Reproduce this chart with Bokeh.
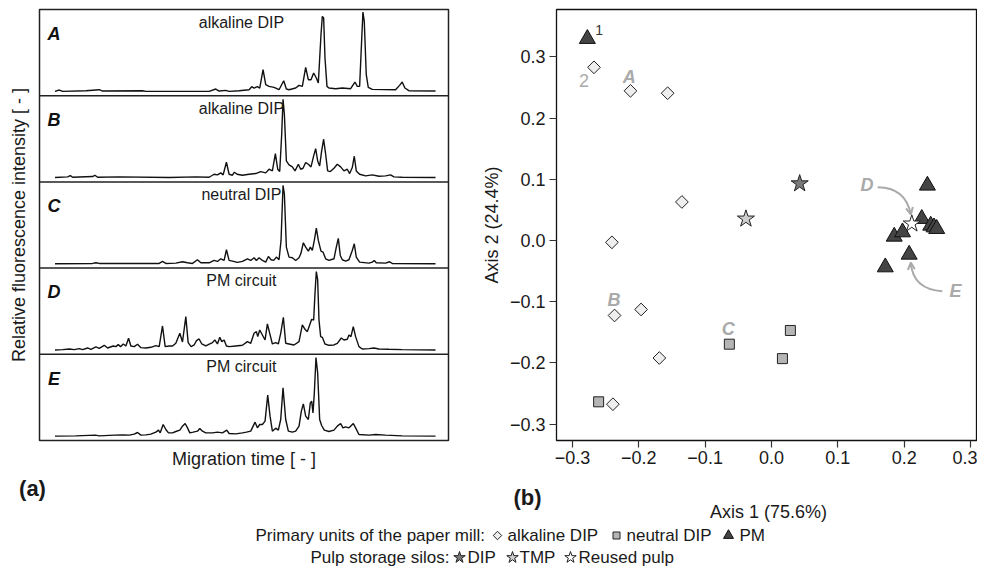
from bokeh.plotting import figure
from bokeh.layouts import column, row
from bokeh.models import (Range1d, FixedTicker, CustomJSTickFormatter, Span,
                          Arrow, OpenHead, ColumnDataSource)
from bokeh.embed import file_html
from bokeh.resources import INLINE
from bokeh.core.properties import value

FONT = "Liberation Sans"

# ---------------- data: electropherograms (migration time, intensity; arbitrary units) ----
A_t = [57,70,80,150,190,200,320,330,520,540,550,570,580,610,640,648,655,665,672,682,690,700,715,730,744,752,760,780,790,800,810,818,826,834,842,848,856,860,864,868,874,880,900,920,945,958,965,972,978,982,986,992,998,1010,1080,1092,1100,1108,1120,1200]
A_i = [0,4,0,2,5,1,2,0,0,7,1,3,0,2,5,14,10,14,10,65,20,15,12,5,32,7,5,10,18,15,72,35,35,55,40,25,170,225,220,100,15,10,8,10,8,28,15,15,150,238,210,50,12,6,5,18,28,10,2,1]

B_t = [57,95,103,110,170,177,185,250,400,480,520,535,545,555,562,572,580,590,596,604,620,640,660,675,690,700,710,719,726,732,738,742,746,752,760,770,778,788,795,802,810,818,826,834,840,846,852,858,864,870,876,884,895,905,915,925,935,942,950,956,962,972,990,1010,1030,1050,1065,1075,1100,1200]
B_i = [0,2,6,1,3,7,1,2,0,2,1,10,8,14,8,46,10,7,16,10,7,10,12,18,14,25,20,72,25,18,130,235,190,50,38,32,20,40,25,28,45,40,32,65,87,50,35,80,115,70,20,18,28,40,32,20,25,12,30,64,20,10,5,8,4,5,8,2,1,0]

C_t = [57,170,180,190,290,370,380,390,420,440,455,470,485,495,520,535,545,555,565,572,580,590,605,620,635,645,655,662,670,680,690,698,706,714,722,730,736,742,746,752,760,770,780,790,796,803,810,818,824,830,836,842,848,856,862,870,880,895,902,908,914,920,930,940,950,956,962,972,1000,1010,1016,1022,1050,1062,1070,1200]
C_i = [0,1,3,1,1,1,7,1,2,6,3,1,12,3,3,10,7,15,10,42,10,8,4,7,15,10,18,10,18,10,5,22,12,10,20,12,70,235,210,50,20,18,10,18,32,63,50,38,50,40,70,107,70,38,35,15,10,15,50,76,25,12,8,12,40,60,20,5,2,5,10,3,2,6,1,0]

D_t = [57,80,100,115,130,140,155,165,180,190,205,215,232,240,247,254,262,270,278,285,295,305,315,330,345,360,370,380,388,400,410,420,432,440,450,457,466,475,482,490,498,510,522,530,537,545,552,558,565,572,580,600,620,635,645,655,662,666,672,680,688,695,702,710,720,728,735,743,750,760,775,790,800,808,815,822,828,834,838,842,846,850,855,860,868,880,895,905,917,925,935,940,946,953,960,970,980,1000,1015,1030,1060,1100,1200]
D_i = [0,1,3,1,4,1,6,2,9,5,14,6,12,10,16,10,18,12,35,12,10,17,7,6,8,13,10,72,10,12,12,20,50,24,100,22,10,15,28,33,18,12,18,22,30,18,38,25,30,12,10,12,14,25,20,50,55,40,60,45,30,78,50,18,22,18,50,98,20,18,15,25,75,62,55,75,92,90,170,235,210,90,40,38,18,14,15,20,36,30,32,45,40,70,40,10,3,4,6,3,2,1,0]

E_t = [57,120,178,190,235,260,280,295,305,315,330,345,360,368,373,382,390,398,410,420,432,440,448,455,462,472,485,492,500,510,530,545,560,573,580,600,620,632,645,658,665,672,680,688,696,703,710,720,728,735,742,750,758,770,780,790,797,803,810,818,824,828,832,836,841,846,852,858,866,880,895,905,915,922,930,940,945,953,960,970,1000,1020,1050,1100,1200]
E_i = [0,1,3,1,3,4,3,6,11,3,4,6,12,18,10,35,20,10,10,14,18,30,38,25,10,12,15,23,15,10,10,12,10,18,8,7,10,12,15,42,25,35,35,45,123,60,15,24,18,50,145,50,15,12,15,30,75,97,60,50,100,105,70,130,236,190,50,32,18,14,18,30,38,25,28,25,30,38,25,5,3,5,3,1,0]

panel_letters = ["A", "B", "C", "D", "E"]
panel_names = ["alkaline DIP", "alkaline DIP", "neutral DIP", "PM circuit", "PM circuit"]

# ---------------- data: PCA scores ----------------
alk_x = [-0.2675, -0.2125, -0.1565, -0.135, -0.2405, -0.2365, -0.1965, -0.169, -0.239]
alk_y = [0.283, 0.2446, 0.2407, 0.063, -0.003, -0.1225, -0.1127, -0.192, -0.2675]
neu_x = [-0.2605, -0.0635, 0.0285, 0.0165]
neu_y = [-0.2636, -0.1694, -0.147, -0.193]
pm_x = [-0.2775, 0.235, 0.2265, 0.240, 0.245, 0.249, 0.185, 0.1975, 0.2075, 0.1715]
pm_y = [0.3296, 0.0899, 0.0355, 0.0245, 0.0217, 0.0191, 0.0065, 0.0136, -0.0229, -0.0436]
silo_names = ["DIP", "TMP", "Reused pulp"]
silo_x = [0.0425, -0.0385, 0.2115]
silo_y = [0.093, 0.0354, 0.0273]
silo_fill = ["#7a7a7a", "#cfcfcf", "#ffffff"]
axis_ticks = [-0.3, -0.2, -0.1, 0.0, 0.1, 0.2, 0.3]
x_title = "Axis 1 (75.6%)"
y_title = "Axis 2 (24.4%)"

ROW_H = 472
PAGE_H = 570

# ---------------- left panel (a) ----------------
PANEL_H = 258.6
BASE = 13
pa = figure(width=478, height=ROW_H, x_range=Range1d(10.5, 1239), y_range=Range1d(0, 5 * PANEL_H),
            output_backend="svg", toolbar_location=None,
            min_border_left=39, min_border_right=30, min_border_top=9, min_border_bottom=32)
pa.grid.visible = False
pa.outline_line_color = "#222222"
pa.outline_line_width = 1.5
for ax, lab, sto in ((pa.xaxis, "Migration time [ - ]", 8), (pa.yaxis, "Relative fluorescence intensity [ - ]", 11)):
    ax.ticker = FixedTicker(ticks=[])
    ax.axis_label = lab
    ax.axis_label_text_font = FONT
    ax.axis_label_text_font_size = "18px"
    ax.axis_label_text_font_style = "normal"
    ax.axis_label_text_color = "#1a1a1a"
    ax.axis_label_standoff = sto
    ax.major_label_text_font_size = "0px"
    ax.major_label_standoff = 0
    ax.axis_line_color = None
    ax.major_tick_line_color = None
    ax.minor_tick_line_color = None

traces = [(A_t, A_i), (B_t, B_i), (C_t, C_i), (D_t, D_i), (E_t, E_i)]
for k, (t, inten) in enumerate(traces):
    off = (4 - k) * PANEL_H + BASE
    pa.line(t, [v + off for v in inten], line_color="#111111", line_width=1.4)
for k in range(1, 5):
    pa.add_layout(Span(location=k * PANEL_H, dimension="width", line_color="#222222", line_width=1.5))

lab_src = ColumnDataSource(dict(
    lx=[54] * 5, ly=[(4 - k) * PANEL_H + 186 for k in range(5)], letter=panel_letters,
    nx=[617] * 5, ny=[(4 - k) * PANEL_H + 221 for k in range(5)], name=panel_names))
pa.text(x="lx", y="ly", text="letter", source=lab_src, text_font=value(FONT), text_font_size="18px",
        text_font_style="bold italic", text_align="center", text_baseline="middle", text_color="#111111")
pa.text(x="nx", y="ny", text="name", source=lab_src, text_font=value(FONT), text_font_size="16px",
        text_align="center", text_baseline="middle", text_color="#1a1a1a")

# ---------------- right panel (b) ----------------
pb = figure(width=499, height=ROW_H, x_range=Range1d(-0.324, 0.3105), y_range=Range1d(-0.3268, 0.3775),
            output_backend="svg", toolbar_location=None,
            min_border_left=76, min_border_right=0, min_border_top=9, min_border_bottom=32)
pb.grid.visible = False
pb.outline_line_color = "#111111"
pb.outline_line_width = 1.3
fmt = CustomJSTickFormatter(code="""
    if (Math.abs(tick) < 1e-9) { return '0.0'; }
    return tick.toFixed(1).replace('-', '\\u2212');
""")
for ax in (pb.xaxis, pb.yaxis):
    ax.ticker = FixedTicker(ticks=axis_ticks)
    ax.formatter = fmt
    ax.major_label_text_font = FONT
    ax.major_label_text_font_size = "18px"
    ax.major_label_text_color = "#1a1a1a"
    ax.axis_label_text_font = FONT
    ax.axis_label_text_font_size = "18px"
    ax.axis_label_text_font_style = "normal"
    ax.axis_label_text_color = "#1a1a1a"
    ax.major_tick_out = 7
    ax.major_tick_in = 0
    ax.major_tick_line_color = "#333333"
    ax.major_tick_line_width = 1.2
    ax.minor_tick_line_color = None
    ax.axis_line_color = None
pb.xaxis.major_label_standoff = 3
pb.yaxis.axis_label = y_title
pb.yaxis.major_label_standoff = 4
pb.yaxis.axis_label_standoff = 5

GREY = "#aaaaaa"
# arrows for D and E
pb.quadratic(x0=[0.160], y0=[0.0871], x1=[0.210], y1=[0.0425], cx=[0.2025], cy=[0.0866],
             line_color=GREY, line_width=2)
pb.quadratic(x0=[0.2575], y0=[-0.0828], x1=[0.210], y1=[-0.036], cx=[0.213], cy=[-0.080],
             line_color=GREY, line_width=2)
pb.add_layout(Arrow(x_start=0.2088, y_start=0.049, x_end=0.210, y_end=0.0425, line_color=GREY,
                    line_width=2, end=OpenHead(size=7, line_color=GREY, line_width=2)))
pb.add_layout(Arrow(x_start=0.2105, y_start=-0.043, x_end=0.210, y_end=-0.036, line_color=GREY,
                    line_width=2, end=OpenHead(size=7, line_color=GREY, line_width=2)))

pb.scatter(alk_x, alk_y, marker="square", angle=0.785398, size=9, fill_color="#eeeeee",
           line_color="#222222", line_width=1)
pb.scatter(neu_x, neu_y, marker="square", size=10, fill_color="#b5b5b5", line_color="#222222", line_width=1)
pb.scatter(pm_x, pm_y, marker="triangle", size=16, fill_color="#444444", line_color="#111111", line_width=1)
pb.scatter(silo_x, silo_y, marker="star", size=18, fill_color=silo_fill, line_color="#222222", line_width=1)

ann_src = ColumnDataSource(dict(x=[-0.2145, -0.2375, -0.065, 0.144, 0.2775],
                                y=[0.268, -0.0964, -0.1438, 0.0899, -0.0828],
                                t=["A", "B", "C", "D", "E"]))
pb.text(x="x", y="y", text="t", source=ann_src, text_font=value(FONT), text_font_size="18px",
        text_font_style="bold italic", text_color=GREY, text_align="center", text_baseline="middle")
pb.text(x=[-0.2655], y=[0.344], text=["1"], text_font=value(FONT), text_font_size="14px",
        text_color="#333333", text_align="left", text_baseline="middle")
pb.text(x=[-0.2825], y=[0.262], text=["2"], text_font=value(FONT), text_font_size="18px",
        text_color=GREY, text_align="center", text_baseline="middle")

# ---------------- bottom strip: panel tags, x-axis title of (b), legend ----------------
STRIP_H = PAGE_H - ROW_H
pl = figure(width=977, height=STRIP_H, x_range=Range1d(0, 977), y_range=Range1d(0, STRIP_H),
            output_backend="svg", toolbar_location=None, min_border=0)
pl.axis.visible = False
pl.grid.visible = False
pl.outline_line_color = None

def ptext(x, y_page, s, size="17px", style="normal", align="left"):
    pl.text(x=[x], y=[PAGE_H - y_page], text=[s], text_font=value(FONT), text_font_size=size,
            text_font_style=style, text_color="#1a1a1a", text_align=align, text_baseline="middle")

ptext(32, 488, "(a)", size="22px", style="bold", align="center")
ptext(527, 497, "(b)", size="22px", style="bold", align="center")
ptext(768, 511, x_title, size="18px", align="center")

L1, L2 = 535, 557
ptext(255, L1, "Primary units of the paper mill:")
pl.scatter([497], [PAGE_H - L1], marker="square", angle=0.785398, size=6, fill_color="#eeeeee", line_color="#222222")
ptext(507, L1, "alkaline DIP")
pl.scatter([616], [PAGE_H - L1], marker="square", size=7, fill_color="#b5b5b5", line_color="#222222")
ptext(626, L1, "neutral DIP")
pl.scatter([728], [PAGE_H - L1], marker="triangle", size=10, fill_color="#444444", line_color="#111111")
ptext(739, L1, "PM")

ptext(310, L2, "Pulp storage silos:")
star_pos = [459, 512, 570]
text_pos = [467, 519, 578]
for sx, tx, nm, fc in zip(star_pos, text_pos, silo_names, silo_fill):
    pl.scatter([sx], [PAGE_H - L2], marker="star", size=12, fill_color=fc, line_color="#222222")
    ptext(tx, L2, nm)

layout = column(row(pa, pb), pl)
open("out.html", "w").write(file_html(layout, INLINE))
